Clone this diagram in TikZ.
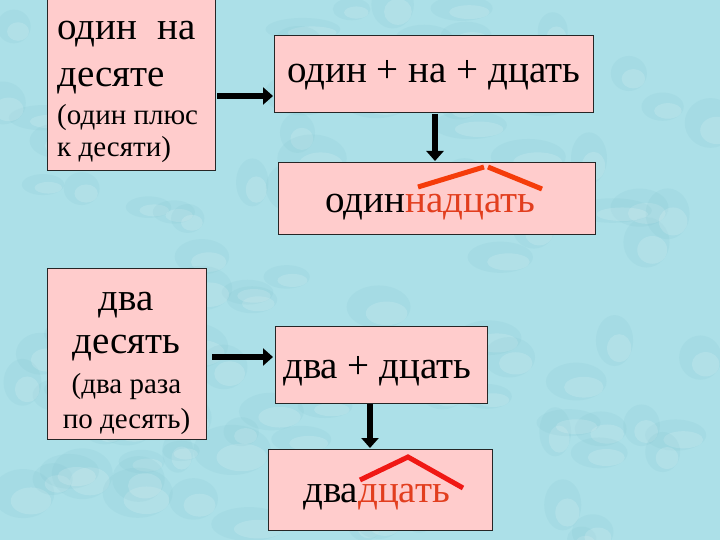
\documentclass[tikz,border=0pt]{standalone}
\usepackage{fontspec}
\newfontfamily\tnr{Liberation Serif}
\usetikzlibrary{arrows.meta}
\definecolor{bgcyan}{RGB}{172,224,232}
\definecolor{bgdark}{RGB}{120,190,202}
\definecolor{boxpink}{RGB}{255,204,204}
\definecolor{redtxt}{RGB}{226,62,30}
\definecolor{redline}{RGB}{245,60,10}
\definecolor{redline2}{RGB}{240,24,20}
\tikzset{
  box/.style={draw=black!85, line width=0.9pt, fill=boxpink, rectangle, inner sep=0pt},
  big/.style={font=\tnr\fontsize{39}{44}\selectfont, inner sep=0pt},
  smalltxt/.style={font=\tnr\fontsize{29}{33}\selectfont, inner sep=0pt},
  arr/.style={line width=6.5pt, -{Triangle[width=17pt,length=10pt]}},
  roof/.style={line width=5pt, color=redline}
}
\begin{document}
\begin{tikzpicture}[x=1pt,y=-1pt]
\useasboundingbox (0,0) rectangle (720,540);
\fill[bgcyan] (0,0) rectangle (720,540);
% droplet texture
\pgfmathsetseed{7}
\foreach \i in {1,...,110}{
  \pgfmathsetmacro{\px}{720*rnd}
  \pgfmathsetmacro{\py}{540*rnd}
  \pgfmathsetmacro{\rx}{14+26*rnd}
  \pgfmathsetmacro{\ry}{10+16*rnd}
  \fill[bgdark, opacity=0.12] (\px,\py) ellipse [x radius=\rx, y radius=\ry];
  \fill[white, opacity=0.14] (\px+0.25*\rx,\py+0.3*\ry) ellipse [x radius=0.65*\rx, y radius=0.55*\ry];
}
% boxes
\node[box, minimum width=168pt, minimum height=172pt] (b1) at (131,84) {};
\node[box, minimum width=319pt, minimum height=77pt] (b2) at (433.5,73.5) {};
\node[box, minimum width=317pt, minimum height=72pt] (b3) at (436.5,198) {};
\node[box, minimum width=159pt, minimum height=171pt] (b4) at (126.5,353.5) {};
\node[box, minimum width=212pt, minimum height=77pt] (b5) at (381,364.5) {};
\node[box, minimum width=224pt, minimum height=81pt] (b6) at (380,489.5) {};
% texts box 1
\node[big, anchor=base west] (t1a) at (57,40) {один\hspace{20pt}на};
\node[big, anchor=base west] (t1b) at (57,87) {десяте};
\node[smalltxt, anchor=base west] (t1c) at (57,125) {(один плюс};
\node[smalltxt, anchor=base west] (t1d) at (57,157) {к десяти)};
% box 2
\node[big, anchor=base west] (t2) at (287,83) {один + на + дцать};
% box 3
\node[big, anchor=base west] (t3) at (325,213) {один\textcolor{redtxt}{надцать}};
% box 4
\node[big, anchor=base] (t4a) at (126.5,310) {два};
\node[big, anchor=base] (t4b) at (126.5,353) {десять};
\node[smalltxt, anchor=base] (t4c) at (126.5,393) {(два раза};
\node[smalltxt, anchor=base] (t4d) at (126.5,428) {по десять)};
% box 5
\node[big, anchor=base west] (t5) at (283,378) {два + дцать};
% box 6
\node[big, anchor=base west] (t6) at (303,502) {два\textcolor{redtxt}{дцать}};
% arrows
\coordinate (a1s) at (217,96);
\coordinate (a1e) at (273,96);
\coordinate (a2s) at (435,114);
\coordinate (a2e) at (435,161);
\coordinate (a3s) at (212,357);
\coordinate (a3e) at (273,357);
\coordinate (a4s) at (370,404);
\coordinate (a4e) at (370,448);
\draw[arr] (a1s) -- (a1e);
\draw[arr] (a2s) -- (a2e);
\draw[arr] (a3s) -- (a3e);
\draw[arr] (a4s) -- (a4e);
% roofs
\draw[roof] (418,187) -- (484,167);
\draw[roof] (488,167) -- (542,189);
\draw[roof, color=redline2] (360,480) -- (408,457) -- (463,488);
\end{tikzpicture}
\end{document}
